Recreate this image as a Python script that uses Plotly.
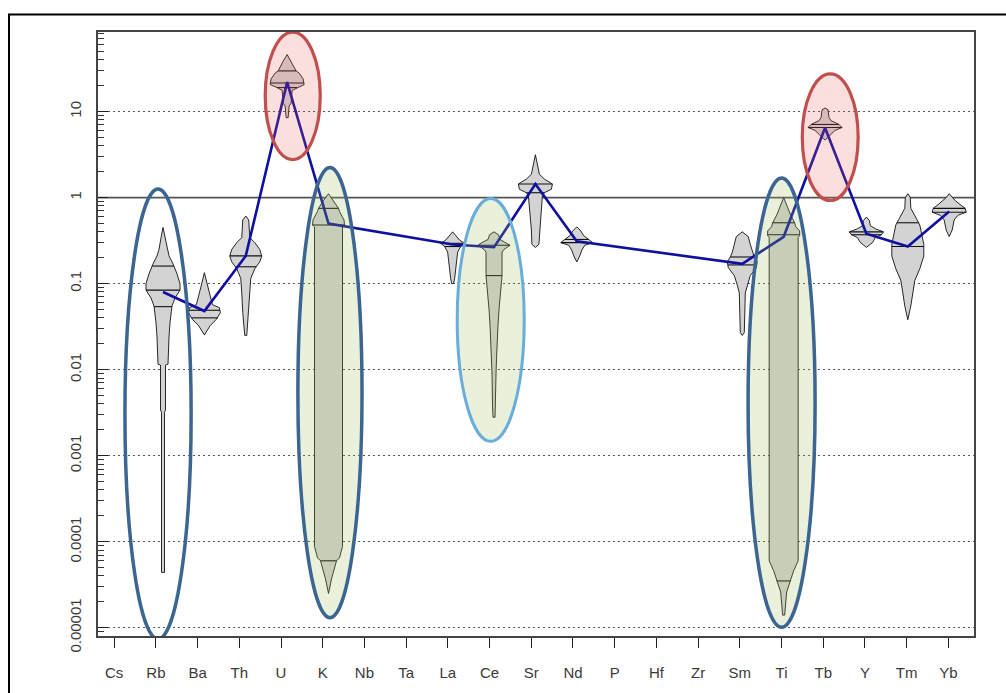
import numpy as np
import plotly.graph_objects as go

# ---------------- data ----------------
ELEMENTS = ["Cs", "Rb", "Ba", "Th", "U", "K", "Nb", "Ta", "La", "Ce", "Sr",
            "Nd", "P", "Hf", "Zr", "Sm", "Ti", "Tb", "Y", "Tm", "Yb"]

# violin profiles: concentration levels (top -> bottom) and relative half-widths
RB_LEVELS = [0.45, 0.34, 0.25, 0.21, 0.17, 0.13, 0.10, 0.084, 0.068, 0.055, 0.035, 0.024, 0.0116, 0.0113, 0.0034, 0.0032, 4.4e-5]
RB_WIDTHS = [0, 2, 4, 6, 10, 14, 17, 17, 12, 9, 7, 6, 5, 2.5, 2.5, 1.5, 1.5]
RB_LINES = [0.16, 0.084, 0.054]

BA_LEVELS = [0.134, 0.078, 0.057, 0.0525, 0.046, 0.0384, 0.0328, 0.0253]
BA_WIDTHS = [0, 5, 8, 15, 16, 12, 6, 0]
BA_LINES = [0.049, 0.040]

TH_LEVELS = [0.61, 0.55, 0.343, 0.30, 0.25, 0.209, 0.179, 0.149, 0.115, 0.078, 0.046, 0.033, 0.025]
TH_WIDTHS = [0, 3, 4, 9, 14, 16, 14, 9, 5, 4, 3, 2, 1]
TH_LINES = [0.21, 0.157]

U_LEVELS = [46, 38.5, 29.7, 28, 24, 20.6, 19, 17.6, 12.5, 11.6, 8.5]
U_WIDTHS = [0, 4, 9, 12, 16, 17, 10, 5, 4, 2, 1]
U_LINES = [29.7, 21.5, 19]

K_LEVELS = [1.11, 0.925, 0.75, 0.69, 0.55, 0.48, 0.457, 8.8e-5, 6.5e-5, 6e-5, 3.7e-5, 2.5e-5]
K_WIDTHS = [0, 5, 10, 11, 15.5, 16, 14, 14, 11, 8, 3, 0]
K_LINES = [0.75, 0.48, 6e-5]

LA_LEVELS = [0.40, 0.35, 0.32, 0.294, 0.27, 0.232, 0.17, 0.115, 0.10]
LA_WIDTHS = [0, 4, 7, 12, 8, 5, 4, 2, 1]
LA_LINES = [0.294, 0.27]

CE_LEVELS = [0.40, 0.37, 0.326, 0.30, 0.279, 0.25, 0.232, 0.124, 0.078, 0.05, 0.033, 0.021, 0.0135, 0.0089, 0.0037, 0.0028]
CE_WIDTHS = [0, 4.5, 6, 12, 16, 10, 8, 8, 6.3, 5, 4, 3, 2.5, 2, 1.5, 1]
CE_LINES = [0.279, 0.124]

SR_LEVELS = [3.15, 2.43, 1.87, 1.64, 1.44, 1.25, 1.14, 1.05, 0.71, 0.42, 0.286, 0.264]
SR_WIDTHS = [0, 2, 4, 9, 17, 16, 9, 7, 6, 4, 3.5, 0]
SR_LINES = [1.44, 1.14]

ND_LEVELS = [0.457, 0.41, 0.36, 0.326, 0.30, 0.279, 0.245, 0.21, 0.179]
ND_WIDTHS = [0, 4, 7, 12, 16, 8, 5, 3, 0]
ND_LINES = [0.326, 0.30]

SM_LEVELS = [0.40, 0.352, 0.286, 0.232, 0.204, 0.179, 0.153, 0.124, 0.096, 0.078, 0.027, 0.025]
SM_WIDTHS = [0, 6, 8, 10, 12, 15, 14, 8, 5, 3, 2, 0]
SM_LINES = [0.204, 0.165]

TI_LEVELS = [1.0, 0.77, 0.625, 0.51, 0.46, 0.41, 0.36, 0.345, 6e-5, 4.6e-5, 3.5e-5, 2.6e-5, 1.4e-5]
TI_WIDTHS = [0, 4, 7, 11, 12, 16, 16, 14.5, 14.5, 10, 7, 3, 1]
TI_LINES = [0.51, 0.37, 3.5e-5]

TB_LEVELS = [11, 10.5, 8.5, 7.85, 7.08, 6.53, 6.04, 5.3, 4.66]
TB_WIDTHS = [0, 3, 4, 6, 14, 17, 10, 5, 0]
TB_LINES = [7.08, 6.53]

Y_LEVELS = [0.594, 0.54, 0.47, 0.434, 0.40, 0.37, 0.343, 0.30, 0.264]
Y_WIDTHS = [0, 3, 4, 9, 17, 15, 9, 6, 0]
Y_LINES = [0.40, 0.37]

TM_LEVELS = [1.11, 1.0, 0.75, 0.66, 0.56, 0.48, 0.37, 0.286, 0.209, 0.149, 0.109, 0.078, 0.055, 0.038]
TM_WIDTHS = [0, 2.5, 3, 6, 9, 12, 14, 16, 16, 12, 7, 5, 3, 0]
TM_LINES = [0.51, 0.27]

YB_LEVELS = [1.11, 1.0, 0.925, 0.83, 0.75, 0.676, 0.625, 0.55, 0.42, 0.352]
YB_WIDTHS = [0, 3, 6, 11, 16, 17, 9, 5, 3, 0]
YB_LINES = [0.75, 0.676]

VIOLINS = {
    "Rb": (RB_LEVELS, RB_WIDTHS, RB_LINES), "Ba": (BA_LEVELS, BA_WIDTHS, BA_LINES),
    "Th": (TH_LEVELS, TH_WIDTHS, TH_LINES), "U": (U_LEVELS, U_WIDTHS, U_LINES),
    "K": (K_LEVELS, K_WIDTHS, K_LINES), "La": (LA_LEVELS, LA_WIDTHS, LA_LINES),
    "Ce": (CE_LEVELS, CE_WIDTHS, CE_LINES), "Sr": (SR_LEVELS, SR_WIDTHS, SR_LINES),
    "Nd": (ND_LEVELS, ND_WIDTHS, ND_LINES), "Sm": (SM_LEVELS, SM_WIDTHS, SM_LINES),
    "Ti": (TI_LEVELS, TI_WIDTHS, TI_LINES), "Tb": (TB_LEVELS, TB_WIDTHS, TB_LINES),
    "Y": (Y_LEVELS, Y_WIDTHS, Y_LINES), "Tm": (TM_LEVELS, TM_WIDTHS, TM_LINES),
    "Yb": (YB_LEVELS, YB_WIDTHS, YB_LINES),
}

# median pattern (blue line)
MEDIAN_ELEMENTS = ["Rb", "Ba", "Th", "U", "K", "La", "Ce", "Sr", "Nd", "Sm", "Ti", "Tb", "Y", "Tm", "Yb"]
MEDIAN_VALUES = [0.08, 0.048, 0.21, 22, 0.5, 0.285, 0.265, 1.44, 0.31, 0.17, 0.35, 6.5, 0.38, 0.27, 0.69]

Y_TICK_VALUES = [1e-5, 1e-4, 1e-3, 1e-2, 1e-1, 1, 10]
Y_TICK_LABELS = ["0.00001", "0.0001", "0.001", "0.01", "0.1", "1", "10"]

# highlight ellipses (category-axis x bounds, value y bounds)
ELLIPSE_X0 = [0.08, 3.47, 4.26, 8.11, 15.14, 16.45]
ELLIPSE_X1 = [1.68, 4.80, 5.81, 9.73, 16.76, 17.80]
ELLIPSE_Y0 = [7.4e-6, 2.77, 1.31e-5, 1.47e-3, 1.01e-5, 0.925]
ELLIPSE_Y1 = [1.26, 84, 2.24, 0.974, 1.685, 27.4]
ELLIPSE_EDGE = ["#3c6591", "#c0504d", "#3c6591", "#6badda", "#3c6591", "#c0504d"]
ELLIPSE_FILL = ["rgba(0,0,0,0)", "rgba(235,90,90,0.2)", "rgba(155,187,89,0.22)",
                "rgba(155,187,89,0.22)", "rgba(155,187,89,0.22)", "rgba(235,90,90,0.2)"]
ELLIPSE_WIDTH = [3.5, 3.2, 3.5, 3.0, 3.5, 3.2]

# ---------------- layout geometry ----------------
W, H = 1006, 693
ML, MR, MT, MB = 98, 32, 32, 41
FRAME_LEFT, FRAME_TOP = 9, 14
X_RANGE = [-0.571, 20.60]
Y_RANGE = [-5.096, 1.925]
px_per_cat = (W - ML - MR) / (X_RANGE[1] - X_RANGE[0])

fig = go.Figure()

# violins
for el, (levels, widths, lines) in VIOLINS.items():
    cx = ELEMENTS.index(el)
    lv = np.array(levels, dtype=float)
    hw = np.array(widths, dtype=float) / px_per_cat
    xs = list(cx + hw) + list((cx - hw)[::-1]) + [cx + hw[0]]
    ys = list(lv) + list(lv[::-1]) + [lv[0]]
    fig.add_trace(go.Scatter(x=xs, y=ys, mode="lines", fill="toself",
                             fillcolor="#d3d3d3", line=dict(color="#111111", width=0.9),
                             hoverinfo="skip", showlegend=False))
    loglv = np.log10(lv)[::-1]
    wrev = hw[::-1]
    lx, ly = [], []
    for q in lines:
        w = float(np.interp(np.log10(q), loglv, wrev))
        lx += [cx - w, cx + w, None]
        ly += [q, q, None]
    fig.add_trace(go.Scatter(x=lx, y=ly, mode="lines", line=dict(color="#111111", width=1.1),
                             hoverinfo="skip", showlegend=False))

# median line
fig.add_trace(go.Scatter(x=[ELEMENTS.index(e) for e in MEDIAN_ELEMENTS], y=MEDIAN_VALUES,
                         mode="lines", line=dict(color="#1010a0", width=2.6),
                         hoverinfo="skip", showlegend=False))

shapes = []
shapes.append(dict(type="line", xref="paper", x0=0, x1=1, yref="y", y0=1, y1=1,
                   line=dict(color="#555555", width=1.6), layer="below"))
for x0, x1, y0, y1, ec, fc, lw in zip(ELLIPSE_X0, ELLIPSE_X1, ELLIPSE_Y0, ELLIPSE_Y1,
                                      ELLIPSE_EDGE, ELLIPSE_FILL, ELLIPSE_WIDTH):
    shapes.append(dict(type="circle", xref="x", yref="y", x0=x0, x1=x1, y0=y0, y1=y1,
                       line=dict(color=ec, width=lw), fillcolor=fc, layer="above"))
plot_h = H - MT - MB
shapes.append(dict(type="rect", xref="paper", yref="paper",
                   x0=(FRAME_LEFT - ML) / (W - ML - MR), x1=1.06,
                   y0=-0.3, y1=(H - MB - FRAME_TOP) / plot_h,
                   line=dict(color="#000000", width=2), fillcolor="rgba(0,0,0,0)"))

x_tickvals = [i * 1.008 - 0.18 for i in range(len(ELEMENTS))]
minor_vals = [k * 10.0 ** e for e in range(-6, 2) for k in range(2, 10)]

fig.update_layout(
    width=W, height=H, margin=dict(l=ML, r=MR, t=MT, b=MB, pad=0),
    paper_bgcolor="white", plot_bgcolor="white",
    shapes=shapes,
    font=dict(family="Liberation Sans, Arial, sans-serif", color="#333333"),
    xaxis=dict(range=X_RANGE, tickmode="array", tickvals=x_tickvals, ticktext=ELEMENTS,
               ticks="outside", ticklen=10, tickwidth=1.2, tickcolor="#222222",
               showline=True, mirror=True, linecolor="#444444", linewidth=1.5,
               showgrid=False, zeroline=False, tickfont=dict(size=15, color="#3a3a3a"),
               ticklabelstandoff=12),
    yaxis=dict(type="log", range=Y_RANGE, tickmode="array", tickvals=Y_TICK_VALUES,
               ticktext=Y_TICK_LABELS, tickangle=-90, ticks="inside", ticklen=10,
               tickwidth=1.2, tickcolor="#222222",
               showline=True, mirror=True, linecolor="#444444", linewidth=1.5,
               showgrid=True, gridcolor="#555555", gridwidth=1.2, griddash="2px,3px",
               zeroline=False, tickfont=dict(size=15, color="#3a3a3a"),
               ticklabelstandoff=9,
               minor=dict(tickmode="array", tickvals=minor_vals, ticks="inside", ticklen=6,
                          tickwidth=1, tickcolor="#333333", showgrid=False)),
)

PAGE_FIX = (
    "document.documentElement.style.margin='0px';"
    "document.documentElement.style.overflow='hidden';"
    "document.body.style.margin='0px';"
    "document.body.style.overflow='hidden';"
    "var gd=document.getElementById('{plot_id}');"
    "gd.style.position='absolute';gd.style.top='0px';gd.style.left='0px';"
)

fig.write_html("out.html", config={"displayModeBar": False}, post_script=PAGE_FIX)
